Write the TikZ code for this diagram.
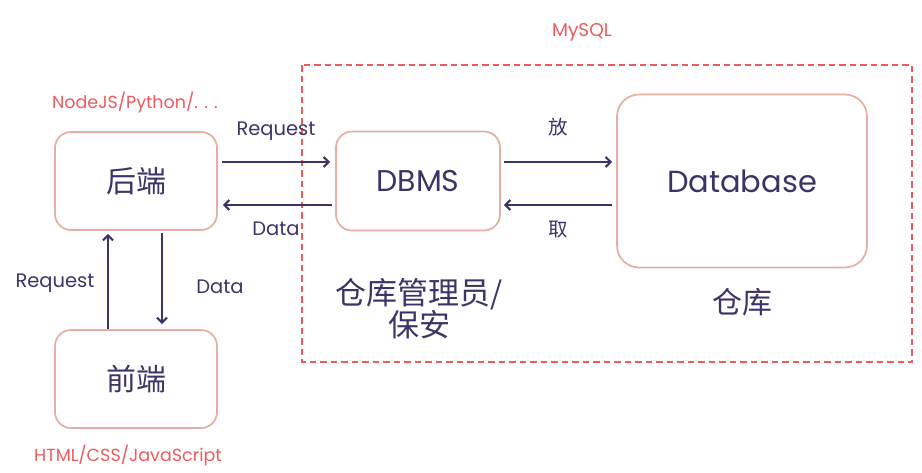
\documentclass[tikz,border=0pt]{standalone}
\usepackage{fontspec}
\setmainfont{Poppins}
\newfontfamily\cjk{Noto Sans CJK SC}
\usetikzlibrary{positioning,arrows.meta}

\definecolor{boxline}{HTML}{E4AFA2}
\definecolor{ink}{HTML}{3E3366}
\definecolor{tagred}{HTML}{EE5A5C}

\tikzset{
  part/.style={draw=boxline,line width=1.7pt,rounded corners=16pt,
    minimum width=162pt,minimum height=98pt,text=ink,
    font=\fontsize{30}{36}\selectfont},
  flow/.style={draw=ink,line width=2.2pt,-{Straight Barb[length=5pt,width=10pt]}},
  tag/.style={text=tagred,font=\fontsize{17.5}{21}\selectfont},
  lbl/.style={text=ink,font=\fontsize{19.5}{23}\selectfont},
}

\begin{document}
\begin{tikzpicture}[x=1pt,y=-1pt]
\useasboundingbox (0,0) rectangle (922,472);

% MySQL dashed frame
\draw[tagred,dashed,dash pattern=on 6.5pt off 4pt,line width=1.7pt]
  (302,65) rectangle (912,362);
\node (mysqltag) [tag,font=\fontsize{18.5}{22}\selectfont] at (582,32) {MySQL};

\node (backend) [part] at (136,181) {\cjk 后端};
\node (frontend) [part] at (136,379) {\cjk 前端};
\node (dbms) [part,minimum width=164pt,minimum height=99pt] at (418,181) {DBMS};
\node (database) [part,minimum width=250pt,minimum height=173pt,
  rounded corners=22pt,font=\fontsize{30.5}{36}\selectfont] at (742,181) {Database};

\node (backtag) [tag] at (135,103) {NodeJS/Python/. . .};
\node (fronttag) [tag] at (128,456) {HTML/CSS/JavaScript};

\node (keeper) [text=ink,font=\fontsize{31}{32}\selectfont,align=center]
  at (419,309) {\cjk 仓库管理员/\\\cjk 保安};
\node (store) [text=ink,font=\fontsize{30}{36}\selectfont] at (742,302) {\cjk 仓库};

% labels on the arrows
\node (req1) [lbl] at (276,131) {Request};
\node (dat1) [lbl] at (276,229) {Data};
\node (put) [lbl] at (558,127) {\cjk 放};
\node (get) [lbl] at (558,230) {\cjk 取};
\node (req2) [lbl] at (55,283) {Request};
\node (dat2) [lbl] at (220,287) {Data};

\draw[flow,shorten <=4pt,shorten >=5pt] ([yshift=19pt]backend.east) -- ([yshift=19pt]dbms.west);
\draw[flow,shorten <=3pt,shorten >=5pt] ([yshift=-24pt]dbms.west) -- ([yshift=-24pt]backend.east);
\draw[flow,shorten <=3pt,shorten >=4pt] ([yshift=19pt]dbms.east) -- ([yshift=19pt]database.west);
\draw[flow,shorten <=4pt,shorten >=3pt] ([yshift=-24pt]database.west) -- ([yshift=-24pt]dbms.east);
\draw[flow,shorten >=3pt] ([xshift=-28pt]frontend.north) -- ([xshift=-28pt]backend.south);
\draw[flow,shorten <=2pt,shorten >=5pt] ([xshift=26pt]backend.south) -- ([xshift=26pt]frontend.north);
\end{tikzpicture}
\end{document}
